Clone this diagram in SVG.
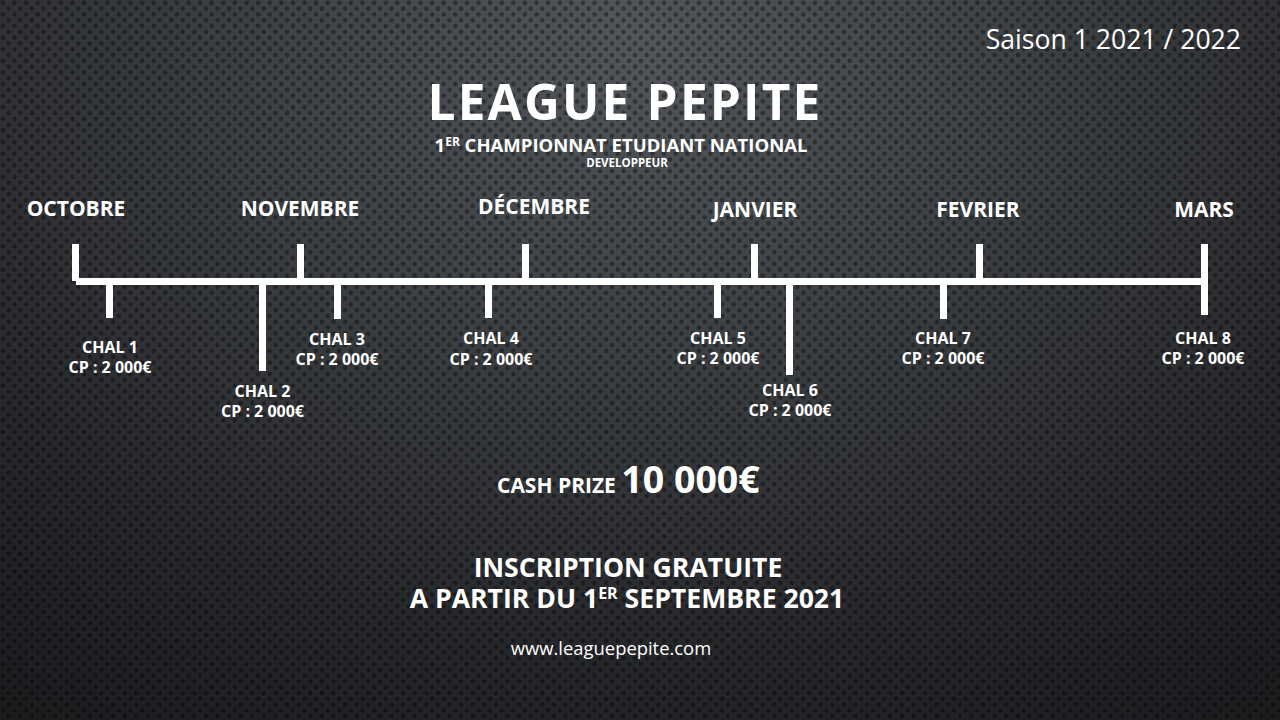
<svg xmlns="http://www.w3.org/2000/svg" width="1280" height="720" viewBox="0 0 1280 720">
<defs>
<radialGradient id="bg" cx="640" cy="40" r="820" gradientUnits="userSpaceOnUse" gradientTransform="translate(640 40) scale(1.3 1) translate(-640 -40)">
<stop offset="0" stop-color="#53565b"/>
<stop offset="0.35" stop-color="#3e4145"/>
<stop offset="0.75" stop-color="#26272a"/>
<stop offset="1" stop-color="#1b1c1e"/>
</radialGradient>
<pattern id="dots" width="11.6" height="11.6" patternUnits="userSpaceOnUse">
<circle cx="2.9" cy="2.9" r="2.3" fill="#000" fill-opacity="0.38"/>
<circle cx="8.7" cy="8.7" r="2.3" fill="#000" fill-opacity="0.38"/>
</pattern>
<style>
.b{font-family:"Open Sans","Liberation Sans",sans-serif;font-weight:700;fill:#ffffff;text-anchor:middle}
.r{font-family:"Open Sans","Liberation Sans",sans-serif;font-weight:400;fill:#ffffff}
.m{font-size:21px}
.c{font-size:16px}
.ln{fill:#ffffff}
</style>
</defs>
<rect width="1280" height="720" fill="url(#bg)"/>
<rect width="1280" height="720" fill="url(#dots)"/>

<g id="header">
<text class="r" x="1241" y="49" font-size="26.6" text-anchor="end">Saison 1 2021 / 2022</text>
<text class="b" x="625" y="120" font-size="49.5" letter-spacing="2.2">LEAGUE PEPITE</text>
<text class="b" x="621" y="152" font-size="18.5">1<tspan font-size="12" dy="-6.5">ER</tspan><tspan dy="6.5"> CHAMPIONNAT ETUDIANT NATIONAL</tspan></text>
<text class="b" x="627" y="167" font-size="11.5">DEVELOPPEUR</text>
</g>

<g id="connectors">
<rect class="ln" x="76" y="278" width="1132" height="7"/>
<rect class="ln" x="72" y="244" width="7" height="37"/>
<rect class="ln" x="297" y="244" width="7" height="36"/>
<rect class="ln" x="522" y="244" width="7" height="36"/>
<rect class="ln" x="751" y="244" width="7" height="36"/>
<rect class="ln" x="976" y="244" width="7" height="36"/>
<rect class="ln" x="1201" y="244" width="7" height="71"/>
<rect class="ln" x="106" y="283" width="7" height="35"/>
<rect class="ln" x="259" y="283" width="7" height="88"/>
<rect class="ln" x="334" y="283" width="7" height="36"/>
<rect class="ln" x="485" y="283" width="7" height="35"/>
<rect class="ln" x="714" y="283" width="7" height="35"/>
<rect class="ln" x="786" y="283" width="7" height="92"/>
<rect class="ln" x="940" y="283" width="7" height="36"/>
</g>

<g id="month-oct"><text class="b m" x="76" y="216">OCTOBRE</text></g>
<g id="month-nov"><text class="b m" x="300" y="216">NOVEMBRE</text></g>
<g id="month-dec"><text class="b m" x="534" y="214">DÉCEMBRE</text></g>
<g id="month-jan"><text class="b m" x="755" y="217">JANVIER</text></g>
<g id="month-feb"><text class="b m" x="978" y="217">FEVRIER</text></g>
<g id="month-mar"><text class="b m" x="1204" y="217">MARS</text></g>

<g id="chal1"><text class="b c" x="110" y="353">CHAL 1</text><text class="b c" x="110" y="373">CP : 2 000€</text></g>
<g id="chal2"><text class="b c" x="262.5" y="397">CHAL 2</text><text class="b c" x="262.5" y="417">CP : 2 000€</text></g>
<g id="chal3"><text class="b c" x="337" y="345">CHAL 3</text><text class="b c" x="337" y="365">CP : 2 000€</text></g>
<g id="chal4"><text class="b c" x="491" y="344">CHAL 4</text><text class="b c" x="491" y="365">CP : 2 000€</text></g>
<g id="chal5"><text class="b c" x="718" y="344">CHAL 5</text><text class="b c" x="718" y="364">CP : 2 000€</text></g>
<g id="chal6"><text class="b c" x="790" y="396">CHAL 6</text><text class="b c" x="790" y="416">CP : 2 000€</text></g>
<g id="chal7"><text class="b c" x="943" y="344">CHAL 7</text><text class="b c" x="943" y="364">CP : 2 000€</text></g>
<g id="chal8"><text class="b c" x="1203" y="344">CHAL 8</text><text class="b c" x="1203" y="364">CP : 2 000€</text></g>

<g id="footer">
<text class="b" x="497" y="493" font-size="21" style="text-anchor:start">CASH PRIZE <tspan font-size="37.5">10 000€</tspan></text>
<text class="b" x="628" y="577" font-size="26.6">INSCRIPTION GRATUITE</text>
<text class="b" x="627" y="608" font-size="26.6">A PARTIR DU 1<tspan font-size="16" dy="-9">ER</tspan><tspan dy="9"> SEPTEMBRE 2021</tspan></text>
<text class="r" x="611" y="655" font-size="18.4" text-anchor="middle">www.leaguepepite.com</text>
</g>
</svg>
